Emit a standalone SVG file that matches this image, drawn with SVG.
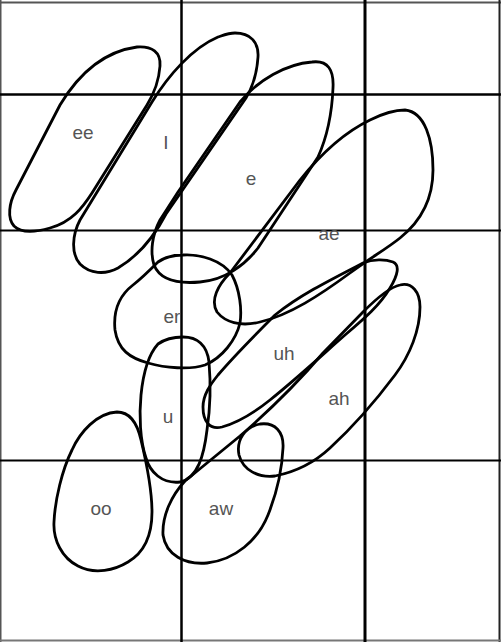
<svg xmlns="http://www.w3.org/2000/svg" width="501" height="642" viewBox="0 0 501 642">
<style>
.grid{stroke:#000;fill:none}
.border{stroke:#555;fill:none;stroke-width:2}
.blob{fill:none;stroke:#000;stroke-width:2.8;stroke-linejoin:round}
.lbl{font-family:"Liberation Sans",Arial,sans-serif;font-size:19px;fill:#555;text-anchor:middle}
</style>
<rect width="501" height="642" fill="#fff"/>
<g id="grid">
<line class="border" x1="0" y1="2.5" x2="501" y2="2.5"/>
<line class="border" x1="0.5" y1="0" x2="0.5" y2="642"/>
<line class="border" x1="499.5" y1="0" x2="499.5" y2="642" style="stroke:#222"/>
<line class="border" x1="0" y1="640.5" x2="501" y2="640.5" style="stroke:#777"/>
<line class="grid" x1="181.5" y1="0" x2="181.5" y2="642" stroke-width="2.5"/>
<line class="grid" x1="365" y1="0" x2="365" y2="642" stroke-width="3"/>
<line class="grid" x1="0" y1="94.5" x2="501" y2="94.5" stroke-width="2.5"/>
<line class="grid" x1="0" y1="230.5" x2="501" y2="230.5" stroke-width="2"/>
<line class="grid" x1="0" y1="460.5" x2="501" y2="460.5" stroke-width="2"/>
</g>
<g id="ee">
<path class="blob" d="M137,47 C152,46 161,52 160,66 C159,80 155,92 147,105 L92,193 C83,207 72,222 50,228 C36,232 22,234 14,226 C7,218 9,203 16,190 L60,105 C75,80 100,52 137,47 Z"/>
<text class="lbl" x="83" y="139">ee</text>
</g>
<g id="I">
<path class="blob" d="M235,33 C250,33 259,42 258,57 C257,72 254,85 246,98 L166,214 C155,235 140,255 118,268 C105,275 90,274 80,264 C71,254 72,235 80,220 L152,102 C168,76 192,48 218,37 C224,35 229,33 235,33 Z"/>
<text class="lbl" x="166" y="149">I</text>
</g>
<g id="e">
<path class="blob" d="M312,62 C328,60 334,70 333,88 C332,112 328,135 318,157 L258,248 C245,265 225,280 200,282 C178,284 160,280 154,265 C150,252 152,235 160,220 L178,192 L240,102 C258,80 286,64 312,62 Z"/>
<text class="lbl" x="251" y="185">e</text>
</g>
<g id="ae">
<path class="blob" d="M405,110 C425,112 433,140 433,170 C433,200 420,222 400,238 C385,250 370,258 350,273 C320,295 290,315 260,322 C240,327 225,322 217,312 C210,300 218,285 230,273 L300,180 C320,155 345,132 370,120 C382,114 393,110 405,110 Z"/>
<text class="lbl" x="329" y="240">ae</text>
</g>
<g id="er">
<path class="blob" d="M183,255 C200,254 222,260 232,275 C240,290 242,310 240,323 C236,340 222,358 205,365 C190,370 165,368 148,363 C130,358 118,350 115,330 C113,310 120,295 133,285 C142,278 150,270 158,262 C165,257 174,255 183,255 Z"/>
<text class="lbl" x="172" y="323">er</text>
</g>
<g id="uh">
<path class="blob" d="M393,262 C400,265 398,275 390,288 C380,305 365,318 345,335 C320,357 295,380 270,400 C255,412 240,422 222,427 C210,430 203,422 203,407 C203,395 210,385 218,375 C235,355 255,335 275,315 C300,295 330,280 363,263 C373,259 385,259 393,262 Z"/>
<text class="lbl" x="284" y="360">uh</text>
</g>
<g id="u">
<path class="blob" d="M183,337 C197,337 207,345 209,362 C211,385 210,410 207,430 C204,455 198,478 180,482 C162,484 150,472 146,458 C140,440 139,415 141,395 C143,375 148,355 158,344 C165,339 174,337 183,337 Z"/>
<text class="lbl" x="168" y="423">u</text>
</g>
<g id="ah-aw">
<path class="blob" d="M400,285 C412,282 420,292 420,307 C420,330 410,355 395,375 C380,395 355,425 330,448 C315,462 295,472 275,476 C258,478 243,470 239,455 C236,440 245,427 260,424 C275,422 284,432 283,448 C282,470 276,495 268,515 C258,540 235,560 207,563 C185,565 166,555 163,535 C162,515 172,495 185,481 L240,436 C270,410 300,380 323,353 L363,312 C378,297 390,287 400,285 Z"/>
<text class="lbl" x="339" y="405">ah</text>
<text class="lbl" x="221" y="515">aw</text>
</g>
<g id="oo">
<path class="blob" d="M117,412 C130,412 137,422 141,440 C147,465 152,490 152,512 C152,535 145,552 128,562 C115,570 95,575 78,566 C62,558 53,540 54,522 C55,500 62,470 72,450 C80,432 97,413 117,412 Z"/>
<text class="lbl" x="101" y="515">oo</text>
</g>
</svg>
